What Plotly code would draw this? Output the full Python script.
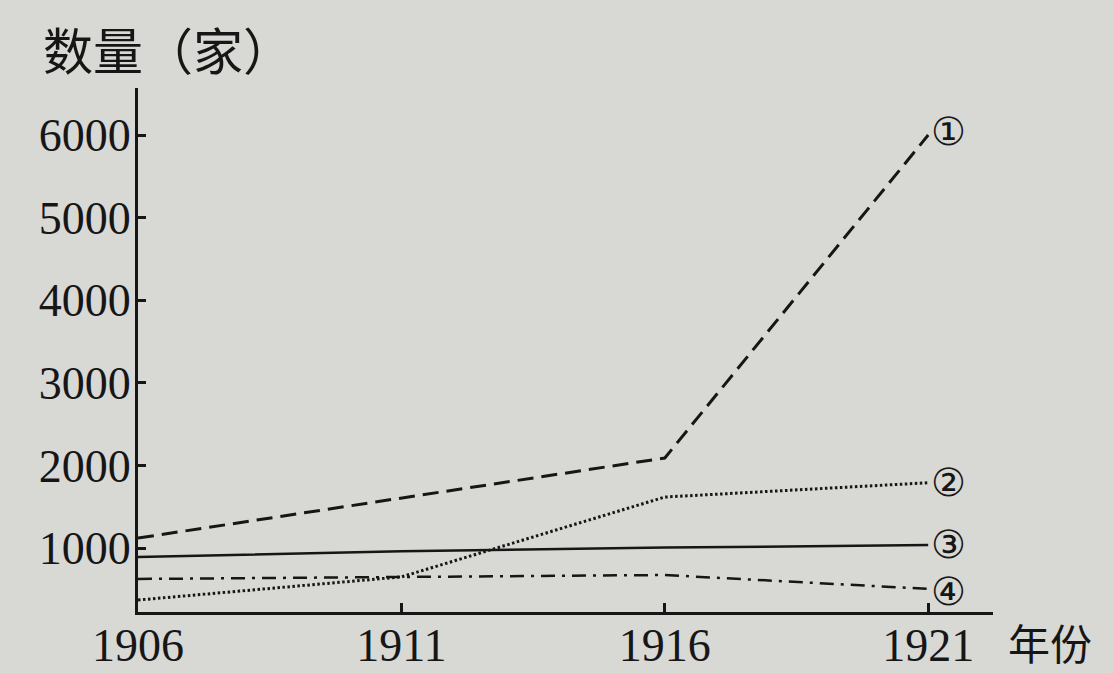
import plotly.graph_objects as go

years = [1906, 1911, 1916, 1921]
s1 = [1120, 1605, 2090, 6000]
s2 = [370, 650, 1617, 1790]
s3 = [890, 960, 1005, 1035]
s4 = [625, 650, 673, 505]
series_labels = ["①", "②", "③", "④"]
y_ticks = [1000, 2000, 3000, 4000, 5000, 6000]
x_ticks = [1906, 1911, 1916, 1921]

ink = "#161616"
bg = "#d8d8d5"

styles = [
    dict(dash="16px,8px", width=3),
    dict(dash="2.5px,2.5px", width=3),
    dict(dash="solid", width=2.5),
    dict(dash="14px,7px,3px,7px", width=2.5),
]

fig = go.Figure()
for vals, st in zip([s1, s2, s3, s4], styles):
    fig.add_trace(go.Scatter(x=years, y=vals, mode="lines",
                             line=dict(color=ink, width=st["width"], dash=st["dash"]),
                             showlegend=False, hoverinfo="skip"))

label_shift = [4, 0, 1, -3]
for vals, lab, sh in zip([s1, s2, s3, s4], series_labels, label_shift):
    fig.add_annotation(x=years[-1], y=vals[-1], text=lab, showarrow=False,
                       xanchor="left", yanchor="middle", xshift=2, yshift=sh,
                       borderpad=0,
                       font=dict(family="DejaVu Sans", size=39, color=ink))

fig.add_annotation(xref="paper", yref="paper", x=-0.113, y=1.0, yshift=40,
                   text="数量（家）", showarrow=False, xanchor="left", yanchor="middle",
                   font=dict(family="Noto Sans CJK SC", size=50, color=ink))
fig.add_annotation(xref="paper", yref="paper", x=1.0, y=0, yshift=-29, xshift=14,
                   text="年份", showarrow=False, xanchor="left", yanchor="middle",
                   borderpad=0,
                   font=dict(family="Noto Sans CJK SC", size=42, color=ink))

fig.update_layout(
    width=1113, height=673,
    margin=dict(l=138, r=120, t=88, b=61),
    paper_bgcolor=bg, plot_bgcolor=bg,
    font=dict(family="Liberation Serif", color=ink),
)
fig.update_xaxes(range=[1906, 1922.23], tickvals=x_ticks, ticktext=[str(v) for v in x_ticks],
                 showgrid=False, zeroline=False, showline=True, linecolor=ink, linewidth=3,
                 ticks="inside", ticklen=9, tickwidth=3, tickcolor=ink, automargin=False,
                 tickfont=dict(family="Liberation Serif", size=46, color=ink),
                 ticklabelstandoff=-9)
fig.update_yaxes(range=[225, 6570], tickvals=y_ticks, ticktext=[str(v) for v in y_ticks],
                 showgrid=False, zeroline=False, showline=True, linecolor=ink, linewidth=3,
                 ticks="inside", ticklen=8, tickwidth=3, tickcolor=ink, automargin=False,
                 tickfont=dict(family="Liberation Serif", size=46, color=ink),
                 ticklabelstandoff=-5)

fig.write_html("out.html", config={"displayModeBar": False},
               post_script="document.body.style.margin='0';document.body.style.overflow='hidden';")
